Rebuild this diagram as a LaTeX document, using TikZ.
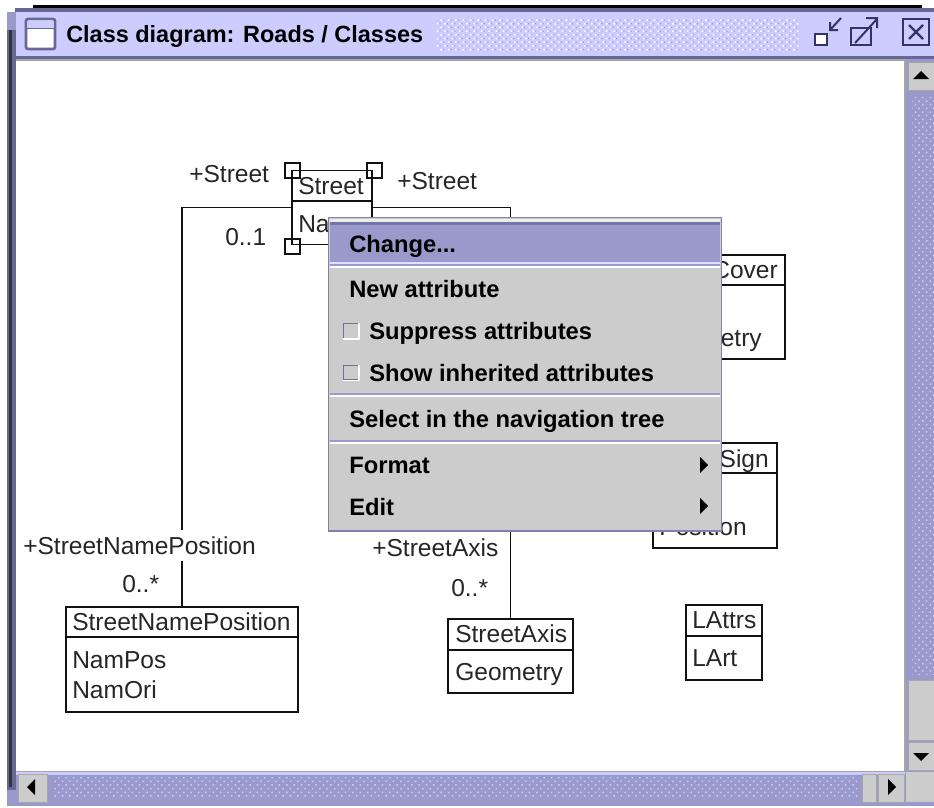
\documentclass[tikz,border=0pt]{standalone}
\usepackage{fontspec}
\setmainfont{Liberation Sans}
\usetikzlibrary{patterns.meta}
\definecolor{lilac}{HTML}{CCCCFF}
\definecolor{midlilac}{HTML}{9999CC}
\definecolor{darklilac}{HTML}{666699}
\definecolor{iconink}{HTML}{333366}
\definecolor{guigray}{HTML}{CCCCCC}
\definecolor{inkline}{HTML}{111111}
\tikzset{
  x=0.75pt,y=-0.75pt,
  umlbox/.style={draw=inkline,line width=1.4pt,fill=white,inner sep=0pt},
  umlline/.style={draw=inkline,line width=1.4pt},
  handle/.style={draw=inkline,line width=1.2pt,minimum size=11.5pt,inner sep=0pt},
  lab/.style={inner sep=0pt,anchor=base west,font=\fontsize{18.4}{20}\selectfont,text=black!85},
  gaplab/.style={lab,fill=white,text height=18pt,text depth=5.5pt},
  menuitem/.style={inner sep=0pt,anchor=base west,font=\fontsize{17.8}{20}\selectfont\bfseries,text=black},
  check/.style={draw=darklilac!55!gray,line width=.9pt,minimum size=11pt,inner sep=0pt},
  btn/.style={fill=guigray,draw=gray!70,line width=.6pt},
  arrowglyph/.style={fill=black},
  icon/.style={draw=iconink,line width=2pt},
}
\begin{document}
\begin{tikzpicture}
\useasboundingbox (0,0) rectangle (934,807);
\fill[white] (0,0) rectangle (934,807);
% window frame
\fill[midlilac] (7,12) rectangle (934,806);
\fill[darklilac] (7,30) rectangle (16,790);
\fill[black!80] (9,30) rectangle (11.5,787);
\fill[black] (33,5) rectangle (922,7.5);
\fill[darklilac] (15,8) rectangle (934,12);
\fill[white] (7,0) rectangle (33,6);
% title bar
\fill[lilac] (16,12) rectangle (934,56);
\fill[darklilac] (16,56) rectangle (934,59);
\fill[pattern={Dots[distance=3.9pt,radius=.8pt,angle=45]},pattern color=white] (437,18) rectangle (800,50);
\fill[pattern={Dots[distance=3.9pt,radius=.6pt,angle=45,xshift=1.95pt]},pattern color=midlilac] (437,18) rectangle (800,50);
\node[inner sep=0pt,anchor=base west,font=\fontsize{17.6}{20}\selectfont\bfseries] (title) at (66,42) {Class diagram: Roads / Classes};
% window icon
\draw[icon,draw=darklilac,fill=white,rounded corners=1.5pt] (26,19) rectangle (55,49);
\fill[lilac] (28,21) rectangle (53,28);
\draw[icon,draw=darklilac,line width=.9pt] (27,28.5) -- (54,28.5);
% minimise, maximise, close
\draw[icon,fill=white] (815,34) rectangle (827,45);
\draw[icon,line width=1.5pt] (841,18) -- (830,30) (830,22) -- (830,30) -- (838,30);
\draw[icon,fill=lilac] (851,28) rectangle (871,45);
\draw[icon,line width=1.5pt] (855,43) -- (877,19) (866,18) -- (877,18) -- (877,28);
\draw[icon,fill=lilac] (903,19) rectangle (929,45);
\draw[icon,line width=1.8pt] (909,25) -- (923,39) (923,25) -- (909,39);
% client area
\fill[white] (16,60) rectangle (905,772);
\draw[gray!70,line width=.8pt] (16,60) -- (905,60) -- (905,772) -- (16,772);
% vertical scrollbar
\fill[btn] (908,62) rectangle (934,90);
\fill[arrowglyph] (913,79) -- (921,71) -- (929,79) -- cycle;
\fill[midlilac] (908,92) rectangle (934,678);
\fill[pattern={Dots[distance=3.9pt,radius=.8pt,angle=45]},pattern color=lilac] (912,97) rectangle (934,674);
\fill[btn] (908,680) rectangle (934,740);
\fill[btn] (908,742) rectangle (934,770);
\fill[arrowglyph] (913,753) -- (929,753) -- (921,761) -- cycle;
% horizontal scrollbar
\fill[lilac] (16,772) rectangle (905,775);
\fill[midlilac] (16,775) rectangle (905,802);
\fill[pattern={Dots[distance=3.9pt,radius=.8pt,angle=45]},pattern color=lilac] (54,777) rectangle (858,798);
\fill[btn] (18,774) rectangle (47,802);
\fill[arrowglyph] (35,779) -- (35,795) -- (27,787) -- cycle;
\fill[btn] (862,774) rectangle (876,802);
\fill[btn] (878,774) rectangle (904,802);
\fill[arrowglyph] (888,779) -- (888,795) -- (896,787) -- cycle;
\fill[guigray] (906,772) rectangle (934,802);
% class boxes
\node[umlbox,minimum width=60pt,minimum height=55.5pt] (street) at (332,207.5) {};
\node[umlbox,minimum width=174pt,minimum height=78.75pt] (snp) at (182,659.5) {};
\node[umlbox,minimum width=93.75pt,minimum height=55.5pt] (axis) at (510.5,656) {};
\node[umlbox,minimum width=57pt,minimum height=56.25pt] (lattrs) at (724,642.5) {};
\node[umlbox,minimum width=90pt,minimum height=78pt] (cover) at (725,307) {};
\node[umlbox,minimum width=93pt,minimum height=78.75pt] (sign) at (715,495.5) {};
% dividers
\draw[umlline] (street.west |- 0,201) -- (street.east |- 0,201);
\draw[umlline] (snp.west |- 0,637) -- (snp.east |- 0,637);
\draw[umlline] (axis.west |- 0,650) -- (axis.east |- 0,650);
\draw[umlline] (lattrs.west |- 0,636) -- (lattrs.east |- 0,636);
\draw[umlline] (cover.west |- 0,285) -- (cover.east |- 0,285);
\draw[umlline] (sign.west |- 0,473) -- (sign.east |- 0,473);
% connectors
\draw[umlline] (street.west) -| (snp.north);
\draw[umlline] (street.east) -| (axis.north);
% selection handles
\node[handle] (h1) at (292.5,170.5) {};
\node[handle] (h2) at (374.5,170.5) {};
\node[handle] (h3) at (292.5,246.5) {};
% class text
\node[lab] (t1) at (298,194) {Street};
\node[lab] (t2) at (298,232) {Na};
\node[lab] (t3) at (72,630) {StreetNamePosition};
\node[lab] (t4) at (72,668) {NamPos};
\node[lab] (t5) at (72,698) {NamOri};
\node[lab] (t6) at (455,642) {StreetAxis};
\node[lab] (t7) at (455,680) {Geometry};
\node[lab] (t8) at (692,628) {LAttrs};
\node[lab] (t9) at (692,666) {LArt};
\node[lab,anchor=base east] (t10) at (778,278) {Cover};
\node[lab,anchor=base east] (t11) at (762,346) {etry};
\node[lab,anchor=base east] (t12) at (769,467) {Sign};
\node[lab,anchor=base east] (t13) at (747,535) {Position};
% role labels
\node[lab] (r1) at (189,182) {+Street};
\node[lab] (r2) at (397,189) {+Street};
\node[lab] (r3) at (225,245) {0..1};
\node[gaplab] (r4) at (23,554) {+StreetNamePosition};
\node[lab] (r5) at (122,592) {0..*};
\node[lab] (r6) at (372,556) {+StreetAxis};
\node[lab] (r7) at (451,596) {0..*};
% popup menu
\fill[guigray,draw=midlilac!85!black,line width=1.2pt] (328.5,217.5) rectangle (721.5,531);
\fill[white!85!gray] (330,219) rectangle (720,223);
\fill[midlilac] (330,223) rectangle (720,262);
\fill[darklilac!70!midlilac] (330,222) rectangle (720,224.5);
\fill[lilac!60!white] (330,262) rectangle (720,264);
\fill[midlilac] (330,264) rectangle (720,266);
\fill[white] (330,266) rectangle (720,267.5);
\fill[midlilac] (330,393) rectangle (720,395);
\fill[white] (330,395) rectangle (720,396.5);
\fill[midlilac] (330,440) rectangle (720,442);
\fill[white] (330,442) rectangle (720,443.5);
\node[menuitem] (m1) at (349,252) {Change...};
\node[menuitem] (m2) at (349,297) {New attribute};
\node[menuitem] (m3) at (369,339) {Suppress attributes};
\node[menuitem] (m4) at (369,381) {Show inherited attributes};
\node[menuitem] (m5) at (349,427) {Select in the navigation tree};
\node[menuitem] (m6) at (349,473) {Format};
\node[menuitem] (m7) at (349,515) {Edit};
\node[check] (c1) at (351,331) {};
\node[check] (c2) at (351,372.5) {};
\draw[white,line width=1pt] (c1.south west) -- (c1.south east) -- (c1.north east);
\draw[white,line width=1pt] (c2.south west) -- (c2.south east) -- (c2.north east);
\fill[arrowglyph] (700,457) -- (708,465) -- (700,473) -- cycle;
\fill[arrowglyph] (700,498) -- (708,506) -- (700,514) -- cycle;
\end{tikzpicture}
\end{document}
